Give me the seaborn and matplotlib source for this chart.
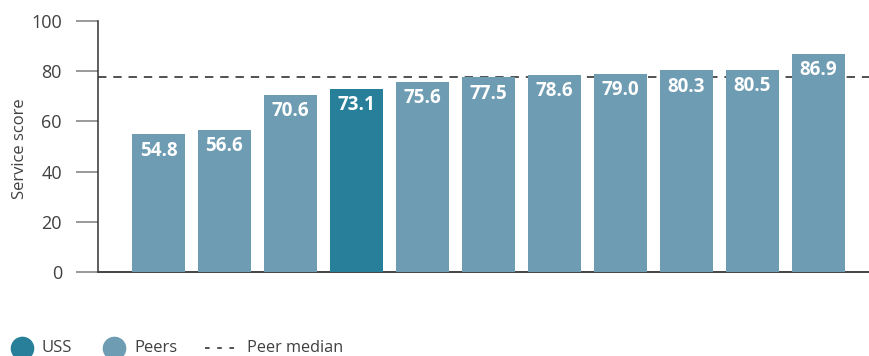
import matplotlib
matplotlib.use("Agg")
import matplotlib.pyplot as plt
import seaborn as sns
import pandas as pd
from matplotlib.lines import Line2D

# Data
schemes = ["Peer 1", "Peer 2", "Peer 3", "USS", "Peer 4", "Peer 5", "Peer 6",
           "Peer 7", "Peer 8", "Peer 9", "Peer 10"]
scores = [54.8, 56.6, 70.6, 73.1, 75.6, 77.5, 78.6, 79.0, 80.3, 80.5, 86.9]
groups = ["Peers", "Peers", "Peers", "USS", "Peers", "Peers", "Peers",
          "Peers", "Peers", "Peers", "Peers"]
peer_median = 77.5
yticks = [0, 20, 40, 60, 80, 100]

USS_COLOR = "#277F99"
PEER_COLOR = "#6E9CB3"
TEXT_COLOR = "#404040"

sns.set_style("white")
plt.rcParams["font.family"] = ["Open Sans", "DejaVu Sans"]

df = pd.DataFrame({"scheme": schemes, "score": scores, "group": groups})

fig = plt.figure(figsize=(8.7, 3.56), dpi=100)
ax = fig.add_axes([98 / 870, 84 / 356, 1 - 98 / 870, (272 - 21) / 356])

sns.barplot(data=df, x="scheme", y="score", hue="group", order=schemes,
            palette={"USS": USS_COLOR, "Peers": PEER_COLOR}, dodge=False,
            width=0.8, saturation=1, legend=False, ax=ax, zorder=3,
            linewidth=0, edgecolor="none")

ax.axhline(peer_median, color="#222222", linewidth=1.1, linestyle=(0, (5.5, 4.5)), zorder=1)

for xi, v in enumerate(scores):
    ax.annotate(f"{v:.1f}", xy=(xi, v), xytext=(0, -4.5), textcoords="offset points",
                ha="center", va="top", color="white", fontweight="bold",
                fontsize=13.5, zorder=5)

ax.set_ylim(0, 100)
ax.set_xlim(-(158.5 - 98) / 66, (870 - 158.5) / 66)
ax.set_yticks(yticks)
ax.set_yticklabels([str(t) for t in yticks])
ax.tick_params(axis="y", length=16, width=1.4, color="#999999", pad=10,
               labelsize=13, labelcolor=TEXT_COLOR, left=True)
ax.tick_params(axis="x", bottom=False, labelbottom=False)
ax.set_xlabel("")
ax.set_ylabel("Service score", fontsize=12, color=TEXT_COLOR)
ax.yaxis.set_label_coords(-0.091, 0.49)

for s in ["top", "right"]:
    ax.spines[s].set_visible(False)
ax.spines["left"].set_color("#333333")
ax.spines["left"].set_linewidth(1.1)
ax.spines["bottom"].set_color("#444444")
ax.spines["bottom"].set_linewidth(1.4)

# Legend (manual, bottom-left)
ly = 8 / 356
fig.add_artist(Line2D([22 / 870], [ly], marker="o", markersize=16, color=USS_COLOR,
                      linestyle="none", transform=fig.transFigure))
fig.text(42 / 870, ly, "USS", fontsize=12, color=TEXT_COLOR, va="center", ha="left")
fig.add_artist(Line2D([114 / 870], [ly], marker="o", markersize=16, color=PEER_COLOR,
                      linestyle="none", transform=fig.transFigure))
fig.text(134 / 870, ly, "Peers", fontsize=12, color=TEXT_COLOR, va="center", ha="left")
fig.add_artist(Line2D([205 / 870, 237 / 870], [ly, ly], color="#222222", linewidth=1.1,
                      linestyle=(0, (3, 5)), transform=fig.transFigure))
fig.text(247 / 870, ly, "Peer median", fontsize=11.7, color=TEXT_COLOR, va="center", ha="left")

fig.savefig("out.png", dpi=100)
